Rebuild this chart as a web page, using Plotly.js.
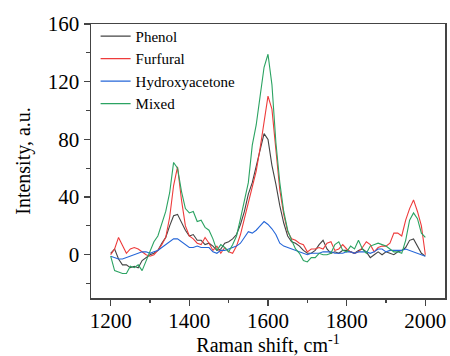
<!DOCTYPE html>
<html>
<head>
<meta charset="utf-8">
<script src="https://cdn.plot.ly/plotly-3.0.1.min.js"></script>
<style>html,body{margin:0;padding:0;background:#fff}#chart{width:450px;height:356px}</style>
</head>
<body>
<div id="chart"></div>
<script>
var ramanShift = [1200,1210,1220,1230,1240,1250,1260,1270,1280,1290,1300,1310,1320,1330,1340,1350,1360,1370,1380,1390,1400,1410,1420,1430,1440,1450,1460,1470,1480,1490,1500,1510,1520,1530,1540,1550,1560,1570,1580,1590,1600,1610,1620,1630,1640,1650,1660,1670,1680,1690,1700,1710,1720,1730,1740,1750,1760,1770,1780,1790,1800,1810,1820,1830,1840,1850,1860,1870,1880,1890,1900,1910,1920,1930,1940,1950,1960,1970,1980,1990,2000];

var phenol = [1,4,-3,-7,-7,-9,-8,-9,-4,-2,0,1,3,8,12,20,27,28,22,17,13,14,10,10,7,8,6,3,4,8,9,11,14,21,30,42,50,61,72,84,80,62,49,34,22,13,9,8,6,3,1,1,3,7,10,4,1,2,1,3,3,2,1,3,4,2,-2,0,2,0,2,1,0,2,3,5,10,11,6,1,-1];

var furfural = [0,4,12,7,1,4,5,4,2,0,-1,0,3,7,12,26,48,61,38,20,13,11,8,7,12,8,3,6,1,5,2,1,6,14,25,36,45,58,74,92,110,101,72,45,28,16,11,10,8,7,2,4,4,5,4,8,9,3,4,7,4,2,1,2,5,9,7,2,5,6,6,8,15,15,13,24,32,38,30,20,0];

var hydroxyacetone = [-1,-2,-3,-3,-2,-1,0,1,2,2,1,2,3,5,7,9,11,11,9,7,5,5,6,5,5,5,2,1,3,3,4,5,6,8,12,16,15,17,20,23,21,18,14,8,6,5,4,3,2,1,0,1,1,1,2,2,2,1,1,1,2,2,1,2,2,2,1,2,4,4,2,3,3,3,3,4,3,2,1,0,-1];

var mixed = [-1,-11,-12,-13,-13,-8,-9,-7,-11,-4,2,9,13,21,30,43,64,60,44,32,29,30,23,24,19,17,11,3,7,5,2,7,13,25,37,50,76,90,110,130,139,118,78,50,30,17,10,4,1,-4,-5,-2,-2,1,0,0,1,7,9,3,2,6,4,10,4,1,6,7,8,7,6,4,2,2,1,10,24,29,25,15,12];

var seriesNames = ['Phenol','Furfural','Hydroxyacetone','Mixed'];
var seriesData = [phenol, furfural, hydroxyacetone, mixed];
var seriesColors = ['#444444','#ee3b3b','#2566d8','#2ba362'];

var xTickVals = [1200,1400,1600,1800,2000];
var yTickVals = [0,40,80,120,160];

var traces = seriesNames.map(function(n,i){
  return {x: ramanShift, y: seriesData[i], name: n, type: 'scatter', mode: 'lines',
          line: {color: seriesColors[i], width: 1.1}};
});

var serif = '"Liberation Serif", "Times New Roman", serif';
var layout = {
  width: 450, height: 356,
  margin: {l: 91, r: 5, t: 24, b: 58},
  paper_bgcolor: '#fff', plot_bgcolor: '#fff',
  font: {family: serif, color: '#000'},
  showlegend: true,
  legend: {x: 0.013, y: 1.015, xanchor: 'left', yanchor: 'top', bgcolor: 'rgba(0,0,0,0)',
           font: {family: serif, size: 15, color: '#000'}, tracegroupgap: 0},
  xaxis: {
    range: [1150, 2050], tickvals: xTickVals, ticks: 'outside', ticklen: 6, tickwidth: 1.2, tickcolor: '#444',
    minor: {dtick: 100, tick0: 1200, ticks: 'outside', ticklen: 3.5, tickcolor: '#444', showgrid: false},
    showgrid: false, zeroline: false, showline: true, mirror: true, linecolor: '#444', linewidth: 1.5,
    tickfont: {family: serif, size: 21, color: '#000'}, ticklabelstandoff: -3,
    title: {text: 'Raman shift, cm<sup>-1</sup>', font: {family: serif, size: 20, color: '#000'}}
  },
  yaxis: {
    range: [-30, 160], tickvals: yTickVals, ticks: 'outside', ticklen: 6, tickwidth: 1.2, tickcolor: '#444',
    minor: {dtick: 20, tick0: 0, ticks: 'outside', ticklen: 3.5, tickcolor: '#444', showgrid: false},
    showgrid: false, zeroline: false, showline: true, mirror: true, linecolor: '#444', linewidth: 1.5,
    tickfont: {family: serif, size: 21, color: '#000'},
    title: {text: 'Intensity, a.u.', font: {family: serif, size: 20, color: '#000'}, standoff: 12}
  }
};

Plotly.newPlot('chart', traces, layout, {displayModeBar: false, staticPlot: true});
</script>
</body>
</html>
